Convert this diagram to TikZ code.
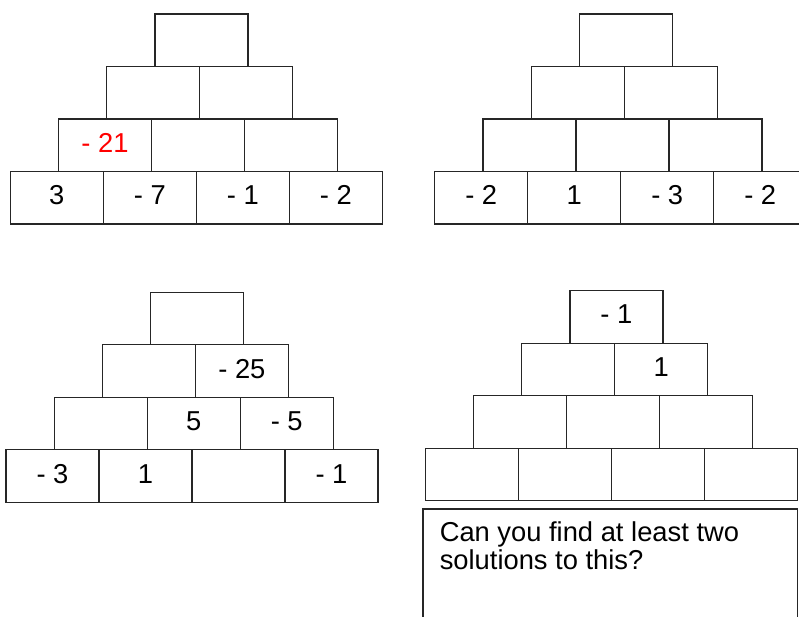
\documentclass[tikz,border=0pt]{standalone}
\usepackage{fontspec}
\setmainfont{Liberation Sans}
\usetikzlibrary{positioning}
\definecolor{numred}{HTML}{FF0000}
\definecolor{linegray}{HTML}{262626}

% one number pyramid: name, left x, top y, list of row/column/entry
\newcommand{\numpyramid}[4]{%
  \foreach \r/\c/\txt in {#4} {
    \node[cell] (#1-\r-\c) at ({#2+(4-\r)*48.2+(\c-0.5)*93}, {#3+(\r-0.5)*52.5}) {\txt};
  }
}

\begin{document}
\begin{tikzpicture}[
  x=0.75pt, y=-0.75pt,
  cell/.style={draw=linegray, line width=0.9pt, minimum width=69.75pt,
               minimum height=39.4pt, inner sep=0pt,
               text height=15pt, text depth=4.5pt,
               font=\fontsize{20.5pt}{21pt}\selectfont},
  notebox/.style={draw=linegray, line width=0.9pt, minimum width=280.8pt,
                  minimum height=112pt, inner sep=0pt},
  notetext/.style={inner sep=0pt, align=left,
                   font=\fontsize{20.5pt}{21pt}\selectfont}
]
  \useasboundingbox (0,0) rectangle (799,617);
  \clip (0,0) rectangle (799,617);

  \numpyramid{p1}{10.3}{14}{1/1/{}, 2/1/{}, 2/2/{}, 3/1/{\color{numred}- 21}, 3/2/{}, 3/3/{},
    4/1/3, 4/2/- 7, 4/3/- 1, 4/4/- 2}
  \numpyramid{p2}{434.7}{14}{1/1/{}, 2/1/{}, 2/2/{}, 3/1/{}, 3/2/{}, 3/3/{},
    4/1/- 2, 4/2/1, 4/3/- 3, 4/4/- 2}
  \numpyramid{p3}{6}{292.3}{1/1/{}, 2/1/{}, 2/2/- 25, 3/1/{}, 3/2/5, 3/3/- 5,
    4/1/- 3, 4/2/1, 4/3/{}, 4/4/- 1}
  \numpyramid{p4}{425.3}{290.7}{1/1/- 1, 2/1/{}, 2/2/1, 3/1/{}, 3/2/{}, 3/3/{},
    4/1/{}, 4/2/{}, 4/3/{}, 4/4/{}}

  % question box below the last pyramid
  \node[notebox, anchor=north west] (note) at (422.3,508.3) {};
  \node[notetext, anchor=north west] (question) at (439.5,521)
    {Can you find at least two\\solutions to this?};
\end{tikzpicture}
\end{document}
